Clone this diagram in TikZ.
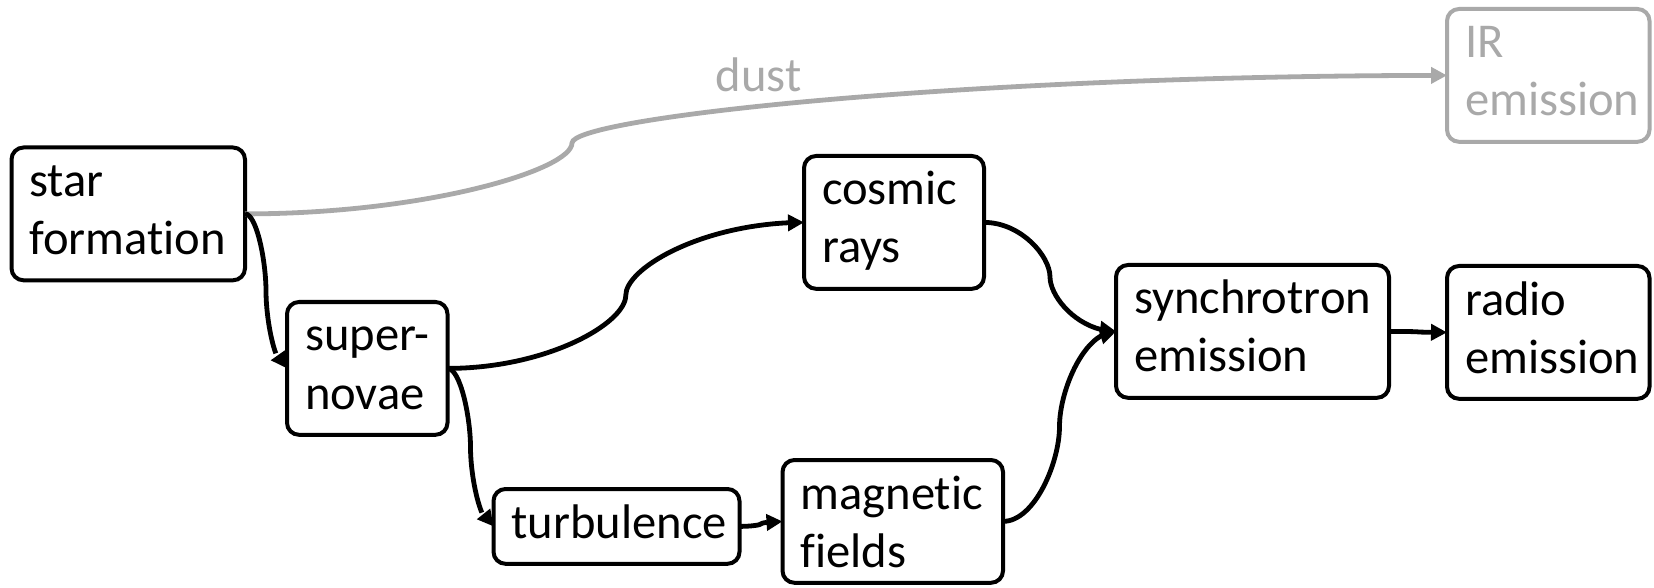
\documentclass[tikz,border=0pt]{standalone}
\usepackage{fontspec}
\setmainfont{Carlito}[Ligatures=NoCommon]
\usetikzlibrary{arrows.meta,bending,calc}
\hyphenpenalty=10000
\exhyphenpenalty=10000
\definecolor{dustgray}{RGB}{169,169,169}
\newcommand\boxfont{\fontsize{24.3pt}{29pt}\selectfont}

\tikzset{
  box/.style={draw, line width=2pt, rounded corners=6pt, align=left,
    anchor=north west, inner xsep=9pt, inner ysep=4.2pt, outer sep=0pt,
    font=\boxfont},
  faint/.style={draw=dustgray, text=dustgray},
  flow/.style={line width=2.4pt, -{Triangle[length=8pt,width=8pt,flex]}},
  % two half-curves meeting at the midpoint with a vertical tangent
  sbend/.style={to path={
    let \p1=(\tikztostart), \p2=(\tikztotarget),
        \n1={0.28*(\x2-\x1)}, \n2={0.19*(\y2-\y1)},
        \n3={-0.28*(\x2-\x1)}, \n4={-0.19*(\y2-\y1)} in
    .. controls +(\n1,0pt) and +(0pt,\n4) .. ($(\p1)!0.5!(\p2)$)
    .. controls +(0pt,\n2) and +(\n3,0pt) .. (\p2)}},
}

\begin{document}
\begin{tikzpicture}[x=0.5pt, y=-0.5pt]
  \useasboundingbox (0,0) rectangle (1654,588);

  % boxes
  \node[box, text width=98.75pt] (sf) at (11.5,147.5) {\strut star\\\strut formation};
  \node[box, text width=62.25pt] (sn) at (287,302) {\strut super-\\\strut novae};
  \node[box, text width=72pt] (cr) at (804,156) {\strut cosmic\\\strut rays};
  \node[box, text width=105pt] (tb) at (493.5,489) {\strut turbulence};
  \node[box, text width=92.25pt, text depth=32.7pt] (mf) at (782.5,460) {\strut magnetic\\\strut fields};
  \node[box, text width=118.5pt] (sy) at (1116,265) {\strut synchrotron\\\strut emission};
  \node[box, text width=83.25pt] (re) at (1447,266) {\strut radio\\\strut emission};
  \node[box, faint, text width=83.25pt] (ir) at (1447,9) {\strut IR\\\strut emission};

  % dust path to the infrared box
  \coordinate (dustbend) at (572,143);
  \draw[flow, dustgray] (sf.east)
    .. controls +(180,0) and +(0,27) .. (dustbend)
    .. controls +(0,-25) and +(-489,0) .. (ir.west);
  \node[font=\boxfont, text=dustgray, anchor=base, inner sep=0pt] (dust) at (758.5,92) {dust};

  % main chain
  \draw[flow] (sf.east) to[sbend] (sn.west);
  \draw[flow] (sn.east) to[sbend] (cr.west);
  \draw[flow] (sn.east) to[sbend] (tb.west);
  \draw[flow] (tb.east) to[sbend] (mf.west);
  \draw[flow] (cr.east) to[sbend] (sy.west);
  \draw[flow] (mf.east) to[sbend] (sy.west);
  \draw[flow] (sy.east) to[sbend] (re.west);
\end{tikzpicture}
\end{document}
